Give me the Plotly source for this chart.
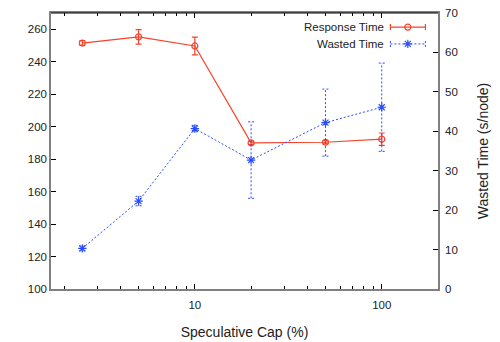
import plotly.graph_objects as go

# Speculative cap settings (%)
cap_pct = [2.5, 5, 10, 20, 50, 100]

# Response time (left axis) with error
response_time = [251.5, 255.3, 249.7, 190.0, 190.4, 192.3]
response_err = [1.5, 4.5, 5.5, 1.0, 1.0, 3.8]

# Wasted time per node (right axis) with error
wasted_time = [10.3, 22.3, 40.7, 32.7, 42.2, 46.1]
wasted_err = [0.6, 1.2, 0.8, 9.7, 8.5, 11.2]

legend_labels = ["Response Time", "Wasted Time"]

RED = "#f5432c"
BLUE = "#2a4cff"
GREY = "#808080"
TXT = "#222222"
FONT = "Liberation Sans, Arial, sans-serif"
FS = 11.5
DOT = "2px,2px"

fig = go.Figure()

# Response time: solid line, open circles, capped error bars
fig.add_trace(go.Scatter(
    x=cap_pct, y=response_time, mode="lines+markers",
    line=dict(color=RED, width=1.2),
    marker=dict(symbol="circle-open", size=6, color=RED, line=dict(width=1.2)),
    error_y=dict(type="data", array=response_err, color=RED, thickness=1.2, width=3),
    yaxis="y", showlegend=False,
))

# Wasted time error bars drawn as dotted segments with caps
cap_f = 1.038
ex, ey = [], []
for xv, yv, e in zip(cap_pct, wasted_time, wasted_err):
    ex += [xv, xv, None, xv / cap_f, xv * cap_f, None, xv / cap_f, xv * cap_f, None]
    ey += [yv - e, yv + e, None, yv - e, yv - e, None, yv + e, yv + e, None]
fig.add_trace(go.Scatter(
    x=ex, y=ey, mode="lines", line=dict(color=BLUE, width=1, dash=DOT),
    yaxis="y2", showlegend=False, hoverinfo="skip",
))

# Wasted time: dotted line, asterisk markers
fig.add_trace(go.Scatter(
    x=cap_pct, y=wasted_time, mode="lines+markers",
    line=dict(color=BLUE, width=1, dash=DOT),
    marker=dict(symbol="asterisk-open", size=7, color=BLUE, line=dict(width=1.2, color=BLUE)),
    yaxis="y2", showlegend=False,
))

# Key samples on a hidden overlay axis (fractions of the plot area)
key_x0, key_x1, key_xm = 0.877, 0.9675, 0.922
key_rows = [0.949, 0.888]
fig.add_trace(go.Scatter(
    x=[key_x0, key_x1], y=[key_rows[0]] * 2, mode="lines",
    line=dict(color=RED, width=1.2),
    error_y=dict(type="constant", value=0.011, color=RED, thickness=1.2, width=0),
    xaxis="x3", yaxis="y3", showlegend=False, hoverinfo="skip",
))
fig.add_trace(go.Scatter(
    x=[key_xm], y=[key_rows[0]], mode="markers",
    marker=dict(symbol="circle-open", size=6, color=RED, line=dict(width=1.2)),
    xaxis="x3", yaxis="y3", showlegend=False, hoverinfo="skip",
))
fig.add_trace(go.Scatter(
    x=[key_x0, key_x1, None, key_x0, key_x0, None, key_x1, key_x1],
    y=[key_rows[1], key_rows[1], None, key_rows[1] - 0.011, key_rows[1] + 0.011, None,
       key_rows[1] - 0.011, key_rows[1] + 0.011],
    mode="lines", line=dict(color=BLUE, width=1, dash=DOT),
    xaxis="x3", yaxis="y3", showlegend=False, hoverinfo="skip",
))
fig.add_trace(go.Scatter(
    x=[key_xm], y=[key_rows[1]], mode="markers",
    marker=dict(symbol="asterisk-open", size=7, color=BLUE, line=dict(width=1.2, color=BLUE)),
    xaxis="x3", yaxis="y3", showlegend=False, hoverinfo="skip",
))

for label, yr in zip(legend_labels, key_rows):
    fig.add_annotation(
        x=0.865, y=yr, xref="paper", yref="paper", text=label, showarrow=False,
        xanchor="right", yanchor="middle", font=dict(size=FS, color=TXT, family=FONT),
    )

# Black top border
fig.add_shape(type="line", xref="paper", yref="paper", x0=0, x1=1, y0=1, y1=1,
              line=dict(color="#000", width=1.2))

minor_vals = [2, 3, 4, 5, 6, 7, 8, 9, 20, 30, 40, 50, 60, 70, 80, 90, 200]

fig.update_layout(
    width=500, height=342,
    margin=dict(l=51, r=62, t=13, b=53),
    paper_bgcolor="white", plot_bgcolor="white",
    font=dict(family=FONT, size=FS, color=TXT),
    xaxis=dict(
        type="log", range=[0.2304, 2.301], automargin=False,
        tickvals=[10, 100], ticktext=["10", "100"],
        ticks="inside", ticklen=5, tickcolor="#000", tickwidth=1,
        ticklabelstandoff=4,
        minor=dict(tickvals=minor_vals, ticks="inside", ticklen=3, tickcolor="#000", tickwidth=1),
        showline=True, linecolor=GREY, linewidth=1.5, mirror="ticks",
        showgrid=False, zeroline=False,
        title=dict(text="Speculative Cap (%)", standoff=18),
    ),
    yaxis=dict(
        range=[100, 270], dtick=20, tick0=100, automargin=False,
        ticks="inside", ticklen=5, tickcolor="#000",
        showline=True, linecolor=GREY, linewidth=1.5,
        showgrid=False, zeroline=False,
    ),
    yaxis2=dict(
        range=[0, 70], dtick=10, tick0=0, overlaying="y", side="right", automargin=False,
        ticks="inside", ticklen=5, tickcolor="#000", ticklabelstandoff=3,
        showline=True, linecolor=GREY, linewidth=1.5,
        showgrid=False, zeroline=False,
        title=dict(text="Wasted Time (s/node)", standoff=21),
    ),
    xaxis3=dict(range=[0, 1], overlaying="x", visible=False, fixedrange=True),
    yaxis3=dict(range=[0, 1], overlaying="y", visible=False, fixedrange=True, anchor="x3"),
)

fig.write_html("out.html")
